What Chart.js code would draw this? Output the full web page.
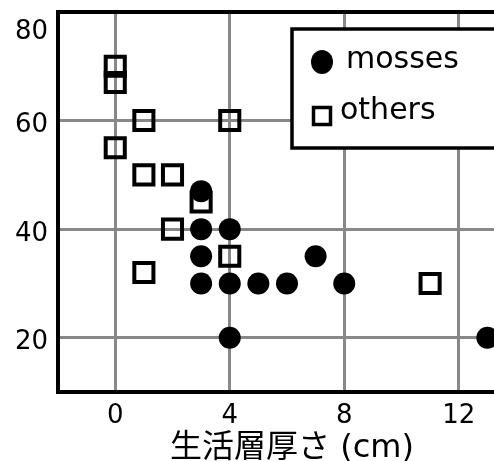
<!DOCTYPE html>
<html>
<head>
<meta charset="utf-8">
<script src="https://cdn.jsdelivr.net/npm/chart.js@4"></script>
<style>
  html, body { margin: 0; padding: 0; background: #fff; overflow: hidden; }
</style>
</head>
<body>
<!-- the original is cropped on the right, so the canvas runs past the window -->
<canvas id="chart" width="526" height="461"></canvas>
<script>
const mossesX = [3, 3, 4, 3, 7, 3, 4, 5, 6, 8, 4, 13];
const mossesY = [47, 40, 40, 35, 35, 30, 30, 30, 30, 30, 20, 20];
const othersX = [0, 0, 0, 1, 4, 1, 2, 2, 3, 4, 1, 11];
const othersY = [70, 67, 55, 60, 60, 50, 50, 40, 45, 35, 32, 30];
const xTicks = [0, 4, 8, 12];
const yTicks = [20, 40, 60, 80];
const seriesLabels = ['mosses', 'others'];
const xTitle = '生活層厚さ (cm)';

const FONT = "'DejaVu Sans', 'Noto Sans CJK JP', sans-serif";
const toPoints = (xs, ys) => xs.map((x, i) => ({ x: x, y: ys[i] }));

// legend drawn as a framed box inside the plot, like the original
const boxLegend = {
  id: 'boxLegend',
  afterDatasetsDraw(chart) {
    const ctx = chart.ctx;
    ctx.save();
    ctx.fillStyle = '#fff';
    ctx.strokeStyle = '#000';
    ctx.lineWidth = 3.5;
    ctx.fillRect(292, 29, 240, 119);
    ctx.strokeRect(292, 29, 240, 119);

    ctx.fillStyle = '#000';
    ctx.beginPath();
    ctx.ellipse(322, 62, 11, 12, 0, 0, Math.PI * 2);
    ctx.fill();

    ctx.lineWidth = 3.5;
    ctx.strokeRect(313.5, 107.5, 17, 17);

    ctx.font = '30px ' + FONT;
    ctx.textBaseline = 'alphabetic';
    ctx.fillText(chart.data.datasets[0].label, 346, 68);
    ctx.fillText(chart.data.datasets[1].label, 340, 119);
    ctx.restore();
  }
};

new Chart(document.getElementById('chart'), {
  type: 'scatter',
  data: {
    datasets: [
      {
        label: seriesLabels[0],
        data: toPoints(mossesX, mossesY),
        pointStyle: 'circle',
        pointRadius: 11,
        backgroundColor: '#000',
        borderColor: '#000',
        borderWidth: 0
      },
      {
        label: seriesLabels[1],
        data: toPoints(othersX, othersY),
        pointStyle: 'rect',
        pointRadius: 13.5,
        backgroundColor: 'rgba(0,0,0,0)',
        borderColor: '#000',
        borderWidth: 4
      }
    ]
  },
  options: {
    responsive: false,
    animation: false,
    events: [],
    layout: { padding: 0, autoPadding: false },
    plugins: {
      legend: { display: false },
      tooltip: { enabled: false }
    },
    scales: {
      x: {
        type: 'linear',
        position: 'bottom',
        min: -2,
        max: 14.35,
        afterBuildTicks: s => { s.ticks = xTicks.map(v => ({ value: v })); },
        afterFit: s => { s.height = 69; s.paddingLeft = 0; s.paddingRight = 0; },
        grid: { color: '#888', lineWidth: 3, drawTicks: false },
        border: { color: '#000', width: 4 },
        ticks: { color: '#000', font: { family: FONT, size: 26 }, padding: 9 },
        title: {
          display: true,
          text: xTitle,
          color: '#000',
          font: { family: FONT, size: 32, lineHeight: 1 },
          padding: { top: 0, bottom: -4 }
        }
      },
      xTop: {
        type: 'linear',
        position: 'top',
        min: -2,
        max: 14.35,
        afterFit: s => { s.height = 12; s.paddingLeft = 0; s.paddingRight = 0; },
        grid: { display: false, drawTicks: false },
        border: { color: '#000', width: 4 },
        ticks: { display: false }
      },
      y: {
        type: 'linear',
        min: 10,
        max: 80,
        afterBuildTicks: s => { s.ticks = yTicks.map(v => ({ value: v })); },
        afterFit: s => { s.width = 58; s.paddingTop = 0; s.paddingBottom = 0; },
        grid: { color: '#888', lineWidth: 3, drawTicks: false },
        border: { color: '#000', width: 4 },
        ticks: {
          color: '#000',
          font: { family: FONT, size: 26 },
          padding: 10,
          labelOffset: 5,
          // top label sits a little lower than its tick in the original
          callback: v => v === yTicks[yTicks.length - 1] ? ['', String(v)] : String(v)
        }
      }
    }
  },
  plugins: [boxLegend]
});
</script>
</body>
</html>
